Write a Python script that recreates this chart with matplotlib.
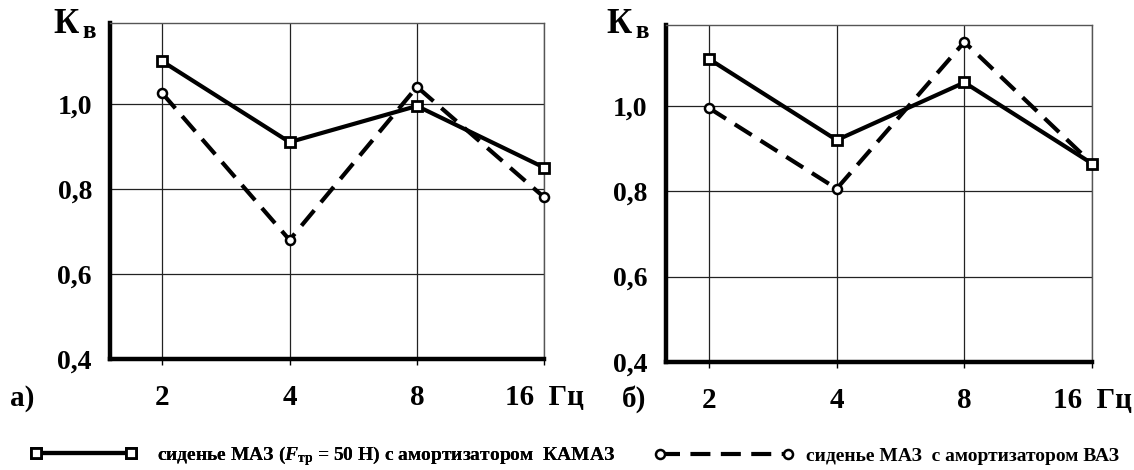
import numpy as np
import matplotlib
matplotlib.use("Agg")
import matplotlib.pyplot as plt

plt.rcParams['font.family'] = ['Liberation Serif', 'DejaVu Serif']
plt.rcParams['font.weight'] = 'bold'
plt.rcParams['mathtext.fontset'] = 'custom'
plt.rcParams['mathtext.rm'] = 'Liberation Serif:bold'
plt.rcParams['mathtext.it'] = 'Liberation Serif:italic:bold'
plt.rcParams['mathtext.bf'] = 'Liberation Serif:bold'

freq = [2, 4, 8, 16]
freq_labels = ["2", "4", "8", "16  Гц"]
y_ticks = [0.4, 0.6, 0.8, 1.0]
y_labels = ["0,4", "0,6", "0,8", "1,0"]

# panel a)
kamaz_a = [1.10, 0.91, 0.995, 0.85]
vaz_a = [1.025, 0.68, 1.04, 0.78]
# panel б)
kamaz_b = [1.11, 0.92, 1.055, 0.865]
vaz_b = [0.995, 0.806, 1.15, 0.865]

label_kamaz = "сиденье МАЗ ($F_{\\mathrm{тр}}$ = 50 Н) с амортизатором  КАМАЗ"
label_vaz = "сиденье МАЗ  с амортизатором ВАЗ"

fig = plt.figure(figsize=(11.34, 4.70), dpi=100)
ax1 = fig.add_axes([0.097, 0.236, 0.383, 0.715])
ax2 = fig.add_axes([0.587, 0.230, 0.376, 0.717])


def setup(ax, xmin):
    ax.set_xscale('log', base=2)
    ax.set_xlim(2 ** xmin, 16)
    ax.set_ylim(0.4, 1.19)
    ax.set_xticks(freq)
    ax.set_xticklabels(freq_labels, fontsize=21, fontweight='bold')
    ax.minorticks_off()
    ax.set_yticks(y_ticks)
    ax.set_yticklabels(y_labels, fontsize=20, fontweight='bold')
    ax.tick_params(axis='y', length=0, pad=13)
    ax.tick_params(axis='x', length=4, width=1, pad=14)
    ax.grid(True, color='#222222', linewidth=0.9)
    ax.set_axisbelow(True)
    ax.spines['left'].set_linewidth(3.2)
    ax.spines['bottom'].set_linewidth(3.2)
    ax.spines['top'].set_linewidth(1.0)
    ax.spines['right'].set_linewidth(1.0)
    ax.spines['top'].set_color('#555555')
    ax.spines['right'].set_color('#555555')


def draw(ax, kamaz, vaz):
    l1, = ax.plot(freq, kamaz, color='black', linewidth=3, marker='s',
                  markersize=7, markerfacecolor='white', markeredgewidth=2,
                  markeredgecolor='black', clip_on=False, zorder=4)
    l2, = ax.plot(freq, vaz, color='black', linewidth=3,
                  linestyle=(0, (4.8, 2.5)), marker='o', markersize=6.5,
                  markerfacecolor='white', markeredgewidth=1.8,
                  markeredgecolor='black', clip_on=False, zorder=3)
    return l1, l2


setup(ax1, 0.59)
setup(ax2, 0.66)
h1, h2 = draw(ax1, kamaz_a, vaz_a)
draw(ax2, kamaz_b, vaz_b)

# axis captions
for xk in [53, 606]:
    fig.text(xk / 1134, 1 - 33 / 470, "К", fontsize=25, fontweight='bold', va='baseline')
    fig.text((xk + 29) / 1134, 1 - 38 / 470, "в", fontsize=18, fontweight='bold', va='baseline')
fig.text(10 / 1134, 1 - 399 / 470, "а)", fontsize=21, fontweight='bold', va='center')
fig.text(622 / 1134, 1 - 399 / 470, "б)", fontsize=21, fontweight='bold', va='center')

leg1 = fig.legend(handles=[h1], labels=[label_kamaz], loc='center left',
                  bbox_to_anchor=(0.018, 0.03), frameon=False, numpoints=2,
                  handlelength=5.5, handletextpad=1.0, borderpad=0,
                  prop={'size': 14, 'weight': 'bold'})
leg2 = fig.legend(handles=[h2], labels=[label_vaz], loc='center left',
                  bbox_to_anchor=(0.568, 0.03), frameon=False, numpoints=2,
                  handlelength=7.2, handletextpad=0.6, borderpad=0,
                  prop={'size': 14, 'weight': 'bold'})
fig.add_artist(leg1)

fig.savefig("out.png", dpi=100)
